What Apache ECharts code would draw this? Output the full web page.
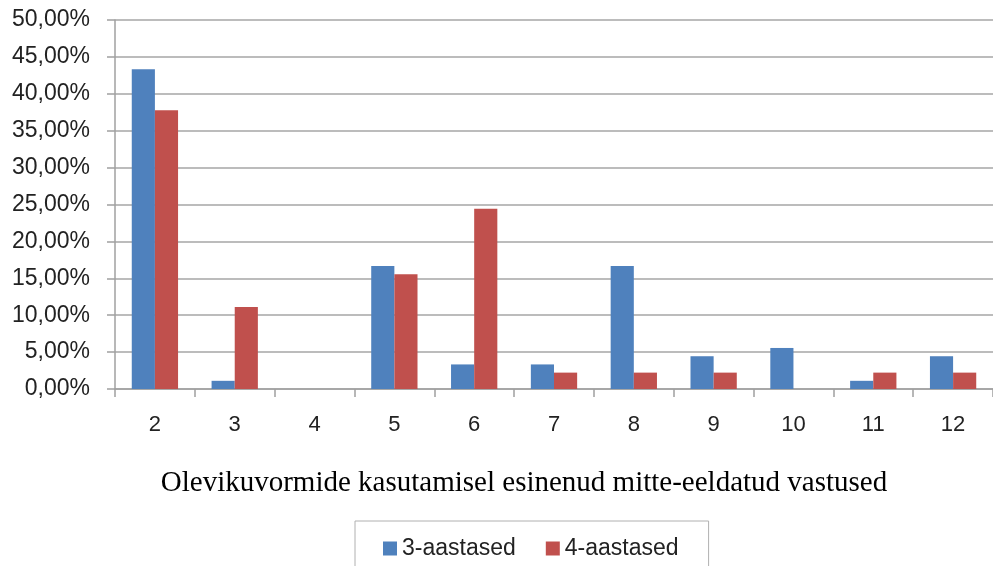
<!DOCTYPE html>
<html><head><meta charset="utf-8">
<script src="https://cdn.jsdelivr.net/npm/echarts@6/dist/echarts.min.js"></script>
<style>html,body{margin:0;padding:0;background:#fff}#c{width:993px;height:566px}</style>
</head><body><div id="c"></div>
<script>
var categories = ['2','3','4','5','6','7','8','9','10','11','12'];
var seriesNames = ['3-aastased','4-aastased'];
var values3 = [43.33, 1.11, 0, 16.67, 3.33, 3.33, 16.67, 4.44, 5.56, 1.11, 4.44];
var values4 = [37.78, 11.11, 0, 15.56, 24.44, 2.22, 2.22, 2.22, 0, 2.22, 2.22];
var xTitle = 'Olevikuvormide kasutamisel esinenud mitte-eeldatud vastused';

var chart = echarts.init(document.getElementById('c'), null, {renderer:'canvas'});
var font = 'Liberation Sans, Arial, sans-serif';
chart.setOption({
  animation:false,
  backgroundColor:'#fff',
  title:{text:xTitle, left:519, top:464, textAlign:'center',
    textStyle:{fontFamily:'Liberation Serif, Times New Roman, serif', fontSize:29, fontWeight:'normal', color:'#000'}},
  grid:{left:115, right:0, top:20, bottom:177, containLabel:false},
  legend:{
    data:seriesNames, left:355, top:521,
    padding:[16,30,20,28], itemGap:30, itemWidth:14, itemHeight:14,
    borderColor:'#B0B0B0', borderWidth:1, backgroundColor:'#fff',
    icon:'rect',
    textStyle:{fontFamily:font, fontSize:23, color:'#222'}
  },
  xAxis:{
    type:'category', data:categories,
    axisLine:{lineStyle:{color:'#A0A0A0', width:1.5}},
    axisTick:{show:true, length:8, alignWithLabel:false, lineStyle:{color:'#A0A0A0', width:1.5}},
    axisLabel:{fontFamily:font, fontSize:22, color:'#222', margin:25}
  },
  yAxis:{
    type:'value', min:0, max:50, interval:5,
    axisLine:{show:true, lineStyle:{color:'#A0A0A0', width:1.5}},
    axisTick:{show:true, length:8, lineStyle:{color:'#A0A0A0', width:1.5}},
    splitLine:{show:true, lineStyle:{color:'#A6A6A6', width:1.5}},
    axisLabel:{fontFamily:font, fontSize:23, color:'#222', margin:25,
      formatter:function(v){return v.toFixed(2).replace('.',',')+'%';}}
  },
  series:[
    {name:seriesNames[0], type:'bar', data:values3, barGap:'0%', barCategoryGap:'42%',
     itemStyle:{color:'#4F81BD'}},
    {name:seriesNames[1], type:'bar', data:values4, barGap:'0%', barCategoryGap:'42%',
     itemStyle:{color:'#C0504D'}}
  ]
});
</script></body></html>
